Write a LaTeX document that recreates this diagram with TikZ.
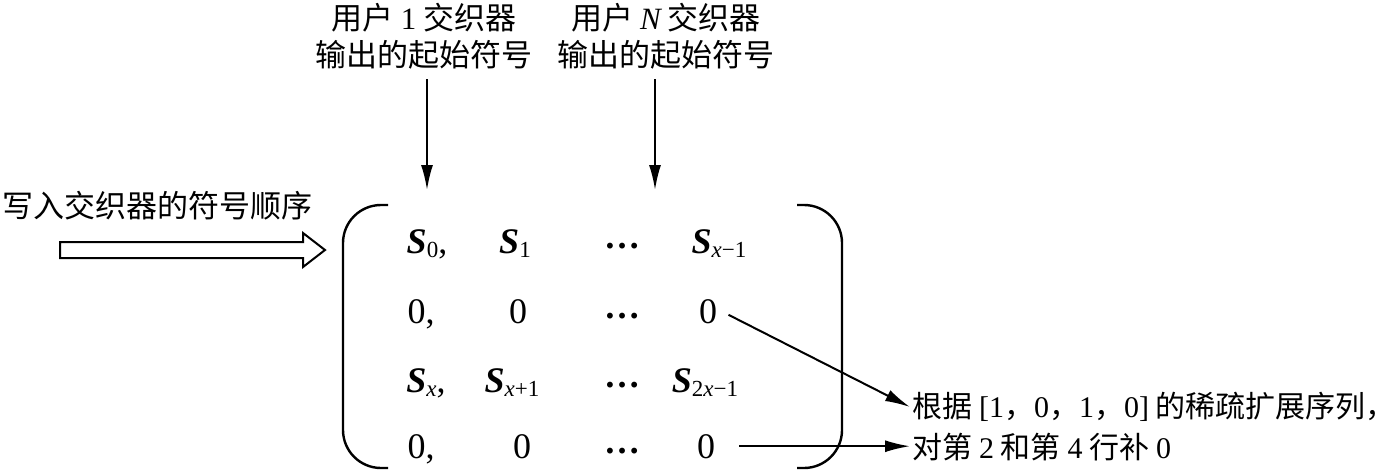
\documentclass[tikz,border=0pt]{standalone}
\usepackage{fontspec}
\setmainfont{Liberation Serif}
\newfontfamily\cjk{Noto Sans CJK SC}
\usepackage{tikz}
\usetikzlibrary{arrows.meta}
\newcommand{\Sv}[1]{\textbf{\textit{S}}\raisebox{-0.3ex}{\fontsize{11.5}{11.5}\selectfont #1}}
\newcommand{\vx}{\textit{x}}
\newcommand{\rdig}[1]{{\rmfamily #1}}
\newcommand{\hdots}{\raisebox{0.12em}{\bfseries …}}

\begin{document}
\begin{tikzpicture}[x=0.5pt, y=-0.5pt,
    cn/.style={font=\fontsize{15.5}{18.5}\selectfont\cjk, inner sep=2pt},
    el/.style={font=\fontsize{18}{21}\selectfont, anchor=base, inner sep=2pt},
    arr/.style={line width=1pt, -{Latex[length=12.5pt, width=6pt]}}]
    \useasboundingbox (0,0) rectangle (1400,471);
    % labels above the matrix
    \node[cn, align=center] (user1) at (424,36) {用户 \rdig{1} 交织器\\输出的起始符号};
    \node[cn, align=center] (userN) at (666,36) {用户 {\rmfamily\itshape N} 交织器\\输出的起始符号};
    \coordinate (in1) at (427,190);
    \coordinate (inN) at (655,190);
    \draw[arr, shorten <=3pt] (in1 |- user1.south) -- (in1);
    \draw[arr, shorten <=3pt] (inN |- userN.south) -- (inN);
    % write order
    \node[cn, anchor=west, inner sep=1pt] (order) at (0,206) {写入交织器的符号顺序};
    \draw[line width=1pt] (60,242) -- (303,242) -- (303,233) -- (325,250)
        -- (303,267) -- (303,258) -- (60,258) -- cycle;
    % brackets
    \draw[line width=1.2pt, rounded corners=19pt] (388,205) -- (343,205) -- (343,468) -- (388,468);
    \draw[line width=1.2pt, rounded corners=19pt] (797,205) -- (842,205) -- (842,468) -- (797,468);
    % matrix entries
    \node[el] (a1) at (427,253) {\Sv{0},};
    \node[el] (a2) at (515,253) {\Sv{1}};
    \node[el] (a3) at (622,253) {\hdots};
    \node[el] (a4) at (719,253) {\Sv{\vx−1}};
    \node[el] (b1) at (424,323) {0,\,};
    \node[el] (b2) at (518,323) {0};
    \node[el] (b3) at (622,323) {\hdots};
    \node[el] (b4) at (708,323) {0};
    \node[el] (c1) at (426,392) {\Sv{\vx},};
    \node[el] (c2) at (512,392) {\Sv{\vx+1}};
    \node[el] (c3) at (622,392) {\hdots};
    \node[el] (c4) at (705,392) {\Sv{2\vx−1}};
    \node[el] (d1) at (424,458) {0,\,};
    \node[el] (d2) at (522,458) {0};
    \node[el] (d3) at (622,458) {\hdots};
    \node[el] (d4) at (706,458) {0};
    % padding note
    \node[cn, anchor=west, inner sep=1pt, font=\fontsize{15}{18}\selectfont\cjk] (note1) at (910,407) {根据 \rdig{[1}，\rdig{0}，\rdig{1}，\rdig{0]} 的稀疏扩展序列\makebox[0.3em][l]{，}};
    \node[cn, anchor=west, inner sep=1pt, font=\fontsize{15}{18}\selectfont\cjk] (note2) at (910,447) {对第 \rdig{2} 和第 \rdig{4} 行补 \rdig{0}};
    \draw[arr, shorten <=4pt] (b4.east) -- (note1.west);
    \draw[arr, shorten <=10pt] (d4.east) -- (d4.east -| note2.west);
\end{tikzpicture}
\end{document}
